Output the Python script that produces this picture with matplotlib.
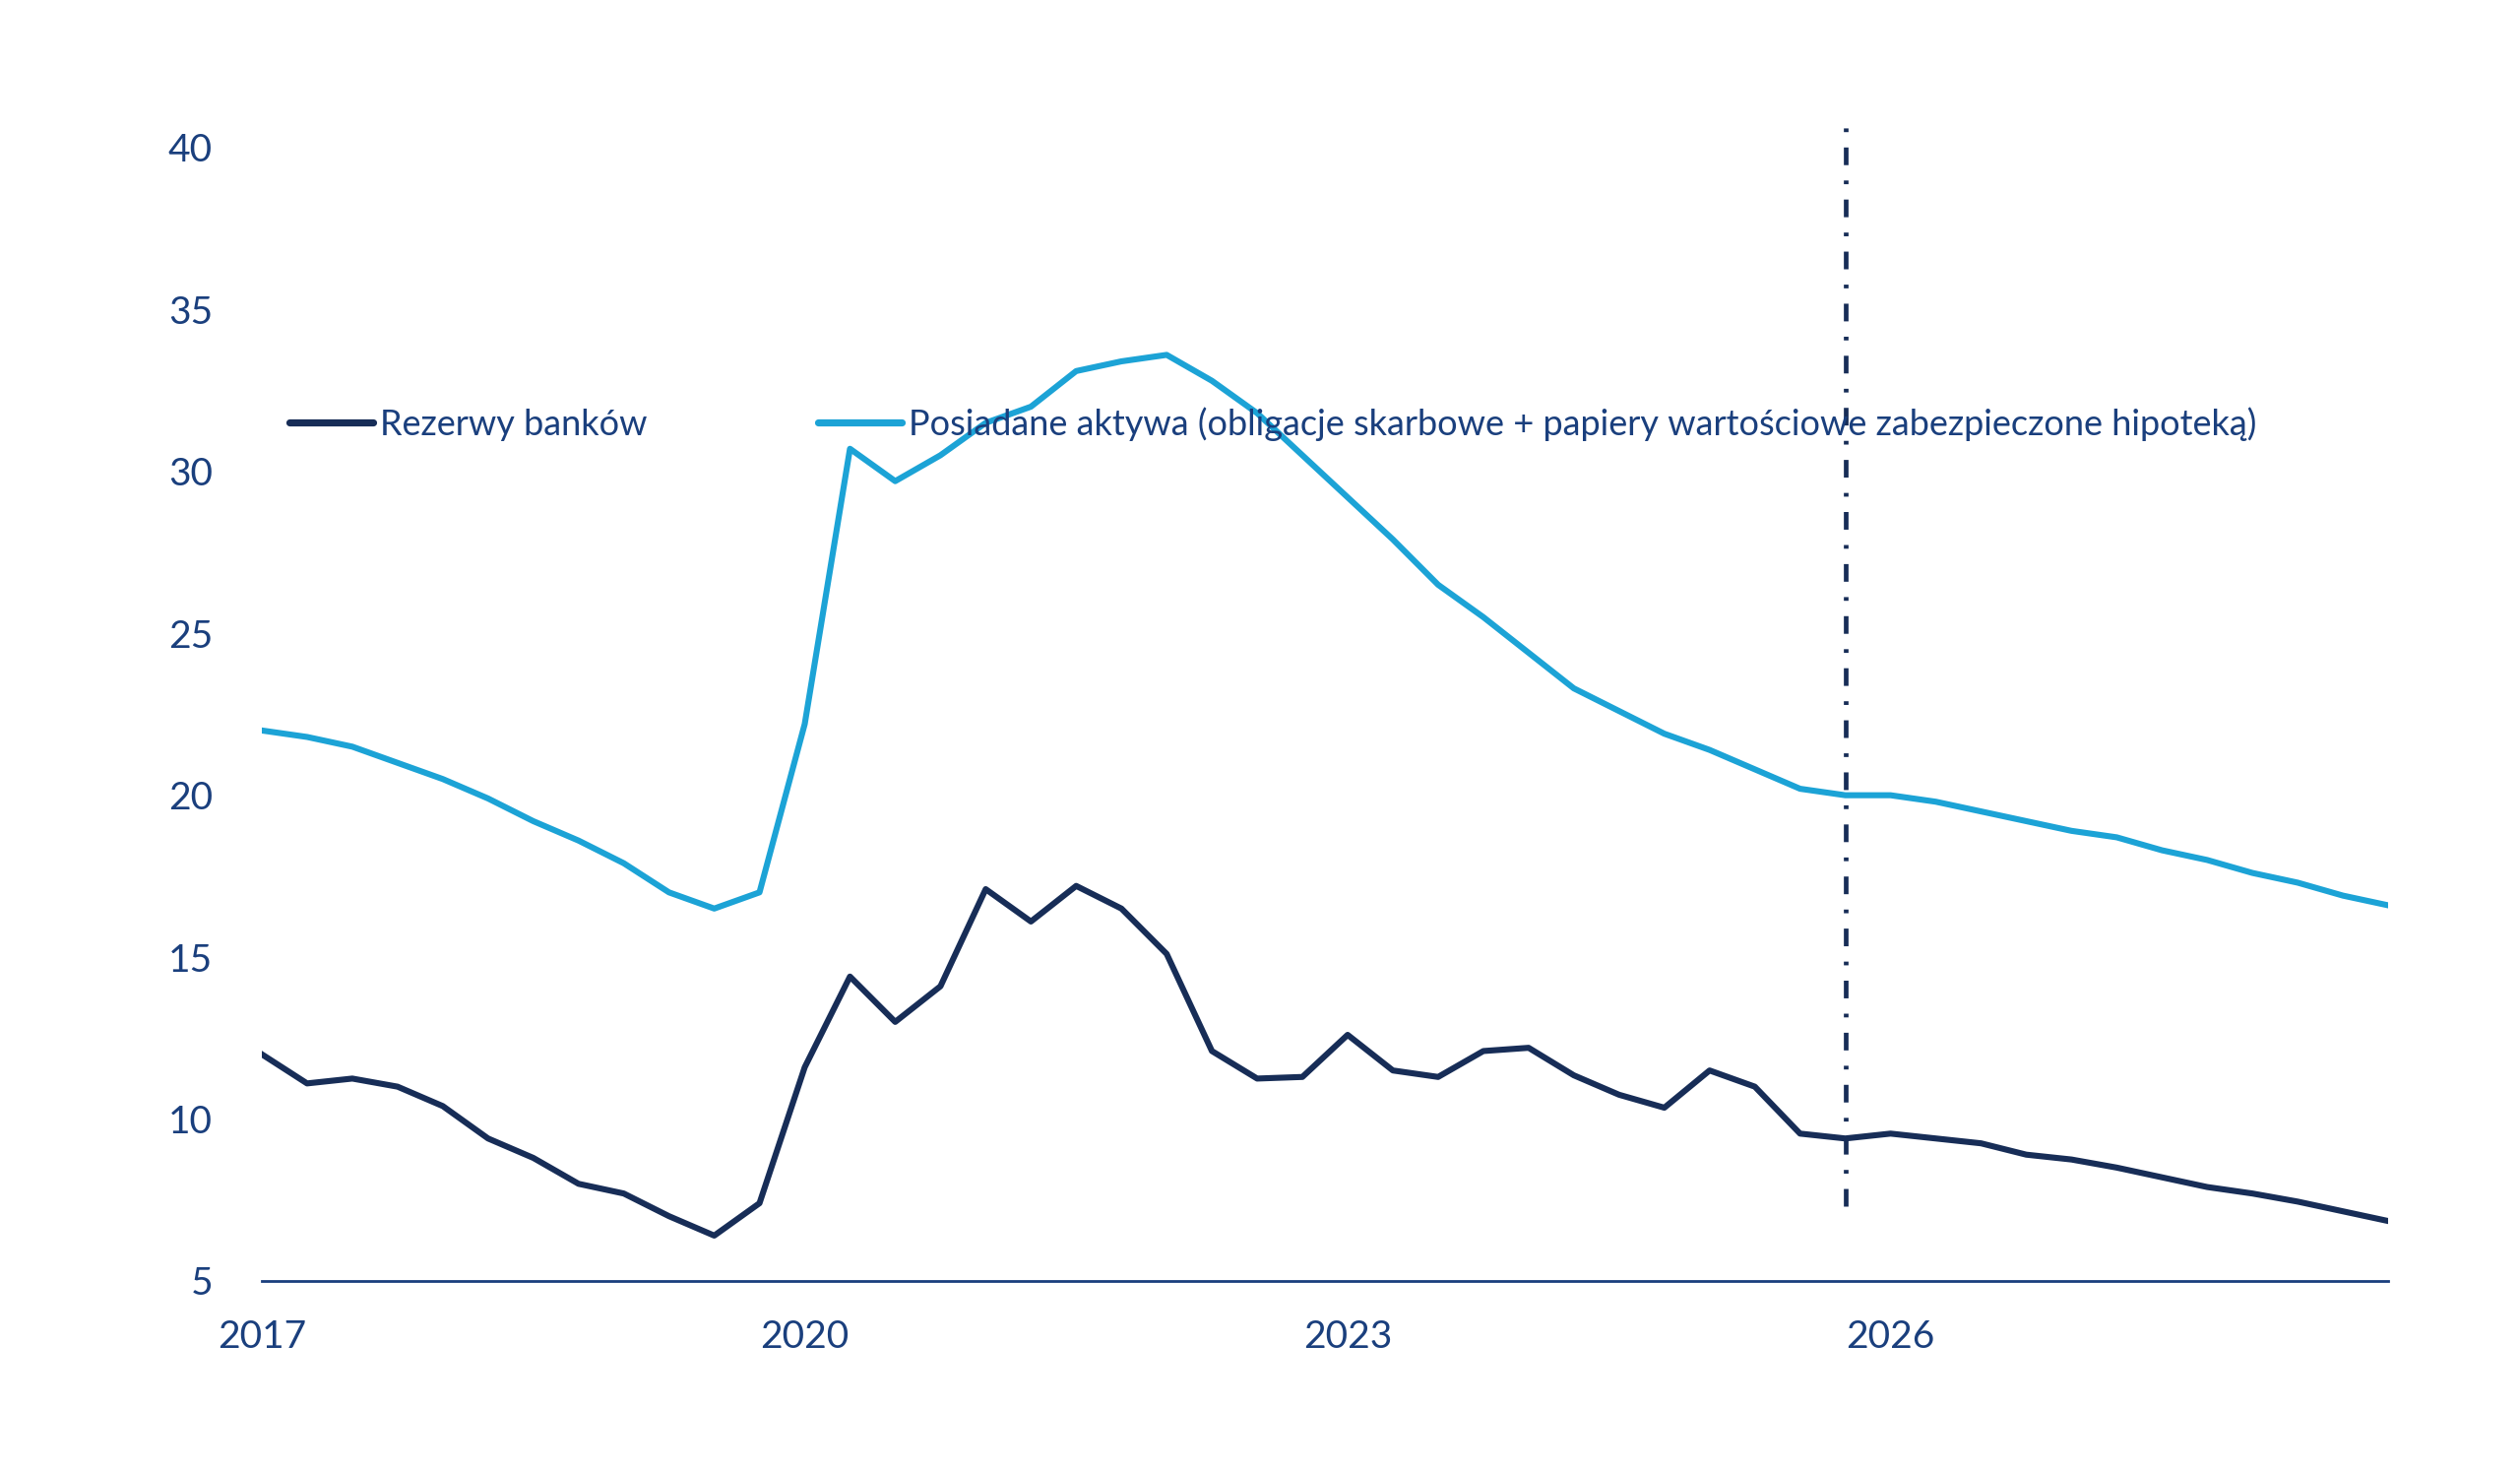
import numpy as np
import matplotlib
matplotlib.use("Agg")
import matplotlib.pyplot as plt

plt.rcParams['font.family'] = ['Lato', 'DejaVu Sans']

# kwartalnie, 2017Q1 - 2028Q4
start_year = 2017
n_quarters = 48

reserves = [12.0, 11.1, 11.25, 11.0, 10.4, 9.4, 8.8, 8.0, 7.7, 7.0, 6.4, 7.4,
            11.6, 14.4, 13.0, 14.1, 17.1, 16.1, 17.2, 16.5, 15.1, 12.1, 11.25, 11.3,
            12.6, 11.5, 11.3, 12.1, 12.2, 11.35, 10.75, 10.35, 11.5, 11.0, 9.55, 9.4,
            9.55, 9.4, 9.25, 8.9, 8.75, 8.5, 8.2, 7.9, 7.7, 7.45, 7.15, 6.85]

assets = [22.0, 21.8, 21.5, 21.0, 20.5, 19.9, 19.2, 18.6, 17.9, 17.0, 16.5, 17.0,
          22.2, 30.7, 29.7, 30.5, 31.5, 32.0, 33.1, 33.4, 33.6, 32.8, 31.8, 30.5,
          29.2, 27.9, 26.5, 25.5, 24.4, 23.3, 22.6, 21.9, 21.4, 20.8, 20.2, 20.0,
          20.0, 19.8, 19.5, 19.2, 18.9, 18.7, 18.3, 18.0, 17.6, 17.3, 16.9, 16.6]

labels = ['Rezerwy banków',
          'Posiadane aktywa (obligacje skarbowe + papiery wartościowe zabezpieczone hipoteką)']

forecast_start = 2025.75
xticks = [2017, 2020, 2023, 2026]
yticks = [5, 10, 15, 20, 25, 30, 35, 40]

navy = '#172D57'
light_blue = '#1CA3D6'
text_col = '#1A3F7D'

x = start_year + np.arange(n_quarters) / 4

fig = plt.figure(figsize=(12.8, 7.475), dpi=200)
ax = fig.add_axes([0.1039, 0.1298, 0.8438, 0.7919])

ax.plot(x, reserves, color=navy, lw=2.2, label=labels[0])
ax.plot(x, assets, color=light_blue, lw=2.2, label=labels[1])

ax.plot([forecast_start, forecast_start], [7.3, 40.85], color=navy, lw=1.7,
        linestyle=(0, (3.8, 3.3, 0.8, 3.3)))

ax.set_xlim(x[0], x[-1])
ax.set_ylim(5, 41)
ax.set_xticks(xticks)
ax.set_yticks(yticks)
ax.tick_params(axis='both', length=0, labelsize=14, colors=text_col)
ax.tick_params(axis='y', pad=18)
ax.tick_params(axis='x', pad=14)

for s in ['top', 'right', 'left']:
    ax.spines[s].set_visible(False)
ax.spines['bottom'].set_color(text_col)
ax.spines['bottom'].set_linewidth(1.0)

leg = ax.legend(loc='center left', bbox_to_anchor=(0.1148, 0.712),
                bbox_transform=fig.transFigure, ncol=2, frameon=False,
                fontsize=13, handlelength=2.35, handletextpad=0.2,
                columnspacing=4.8, borderaxespad=0, borderpad=0)
for t in leg.get_texts():
    t.set_color(text_col)
for h in leg.get_lines():
    h.set_linewidth(2.6)
    h.set_solid_capstyle('round')

fig.savefig('out.png', dpi=200, facecolor='white')
